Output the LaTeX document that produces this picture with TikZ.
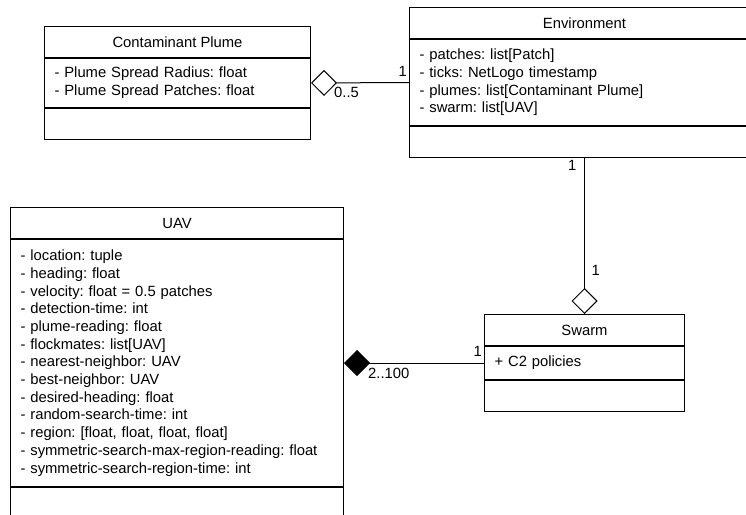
\documentclass[tikz,border=0pt]{standalone}
\usepackage{fontspec}
\setmainfont{Liberation Sans}
\usetikzlibrary{arrows.meta,positioning}
\newcommand{\umlfont}{\fontsize{14.8}{17.7}\selectfont}
\frenchspacing
\begin{document}
\begin{tikzpicture}[x=1pt, y=-1pt,
    classhead/.style={draw, line width=1pt, anchor=north west, inner sep=0pt, minimum height=31pt, font=\umlfont},
    classbody/.style={draw, line width=1pt, anchor=north west, inner xsep=10pt, inner ysep=0pt, align=left, font=\umlfont},
    mult/.style={inner sep=1pt, font=\umlfont},
    aggr/.style={{Diamond[open, length=26pt, width=26pt, line width=1pt]}-, line width=1pt},
    comp/.style={{Diamond[length=26pt, width=26pt]}-, line width=1pt}]
    \useasboundingbox (0,0) rectangle (746,514);

    % Contaminant Plume
    \node[classhead, minimum width=266pt] (plumehead) at (44,26) {Contaminant Plume};
    \node[classbody, text width=246pt, minimum height=49pt] (plumeattr) at (plumehead.south west)
        {- Plume Spread Radius: float\\- Plume Spread Patches: float};
    \node[classbody, text width=246pt, minimum height=31pt] (plumeops) at (plumeattr.south west) {};

    % Environment
    \node[classhead, minimum width=350pt] (envhead) at (409,7) {Environment};
    \node[classbody, text width=330pt, minimum height=86pt] (envattr) at (envhead.south west)
        {- patches: list[Patch]\\- ticks: NetLogo timestamp\\- plumes: list[Contaminant Plume]\\- swarm: list[UAV]};
    \node[classbody, text width=330pt, minimum height=31pt] (envops) at (envattr.south west) {};

    % UAV
    \node[classhead, minimum width=333pt] (uavhead) at (10,207) {UAV};
    \node[classbody, text width=313pt, minimum height=247pt] (uavattr) at (uavhead.south west)
        {- location: tuple\\- heading: float\\- velocity: float = 0.5 patches\\- detection-time: int\\
         - plume-reading: float\\- flockmates: list[UAV]\\- nearest-neighbor: UAV\\- best-neighbor: UAV\\
         - desired-heading: float\\- random-search-time: int\\- region: [float, float, float, float]\\
         - symmetric-search-max-region-reading: float\\- symmetric-search-region-time: int};
    \node[classbody, text width=313pt, minimum height=31pt] (uavops) at (uavattr.south west) {};

    % Swarm
    \node[classhead, minimum width=200pt] (swarmhead) at (484,314) {Swarm};
    \node[classbody, text width=180pt, minimum height=33pt] (swarmattr) at (swarmhead.south west)
        {+ C2 policies};
    \node[classbody, text width=180pt, minimum height=31pt] (swarmops) at (swarmattr.south west) {};

    % Beziehungen
    \draw[aggr] (plumeattr.east) -- (envattr.west);
    \draw[aggr] (swarmhead.north) -- (swarmhead.north |- envops.south);
    \draw[comp] (uavattr.east) -- (swarmattr.west);

    % Multiplizitaeten
    \node[mult, below right=3pt and 22pt of plumeattr.east] (m05) {0..5};
    \node[mult, above left=5pt and 1pt of envattr.west] (menvp) {1};
    \node[mult, below left=1pt and 7pt of swarmhead.north |- envops.south] (menvs) {1};
    \node[mult, above right=37pt and 6pt of swarmhead.north] (mswe) {1};
    \node[mult, below right=4pt and 23pt of uavattr.east] (m2100) {2..100};
    \node[mult, above left=5pt and 1pt of swarmattr.west] (mswu) {1};
\end{tikzpicture}
\end{document}
